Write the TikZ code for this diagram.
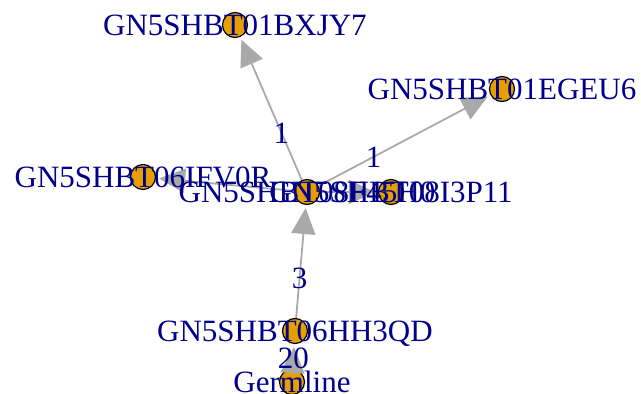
\documentclass[tikz,border=0pt]{standalone}
\usepackage{fontspec}
\setmainfont{Liberation Serif}
\usetikzlibrary{arrows.meta}
\definecolor{lbl}{RGB}{0,0,139}
\definecolor{vfill}{RGB}{230,159,0}
\definecolor{egray}{RGB}{169,169,169}
\begin{document}
\begin{tikzpicture}[x=1pt,y=1pt,
  vtx/.style={circle,draw=black,line width=1.2pt,fill=vfill,minimum size=25pt,inner sep=0pt},
  vlabel/.style={text=lbl,font=\fontsize{31}{31}\selectfont,inner sep=0pt,text height=20.5pt,text depth=0pt},
  edgeline/.style={draw=egray,line width=1.8pt,-{Triangle[length=26pt,width=24pt]},shorten >=3pt},
  elabel/.style={vlabel,sloped=false}]
\useasboundingbox (0,0) rectangle (641,394);
% vertices
\node[vtx] (bx) at (235,369) {};
\node[vtx] (eg) at (502,305) {};
\node[vtx] (ifv) at (143,217) {};
\node[vtx] (c) at (307,202) {};
\node[vtx] (i3) at (391,202) {};
\node[vtx] (hh) at (295,63) {};
\node[vtx] (gl) at (292,12) {};
% edges
\draw[edgeline] (c) -- node[elabel,pos=0.33] {1} (bx);
\draw[edgeline] (c) -- node[elabel,pos=0.32] {1} (eg);
\draw[edgeline] (c) -- (ifv);
\draw[edgeline] (c) -- (i3);
\draw[edgeline] (hh) -- node[elabel,pos=0.35] {3} (c);
\draw[edgeline] (gl) -- node[elabel,pos=0.44] {20} (hh);
% vertex labels
\node[vlabel] (bxl) at (bx) {GN5SHBT01BXJY7};
\node[vlabel] (egl) at (eg) {GN5SHBT01EGEU6};
\node[vlabel] (ifvl) at (ifv) {GN5SHBT06IFV0R};
\node[vlabel] (cl) at (c) {GN5SHBT08F45H0};
\node[vlabel] (i3l) at (i3) {GN5SHBT08I3P11};
\node[vlabel] (hhl) at (hh) {GN5SHBT06HH3QD};
\node[vlabel] (gll) at (gl) {Germline};
\end{tikzpicture}
\end{document}
